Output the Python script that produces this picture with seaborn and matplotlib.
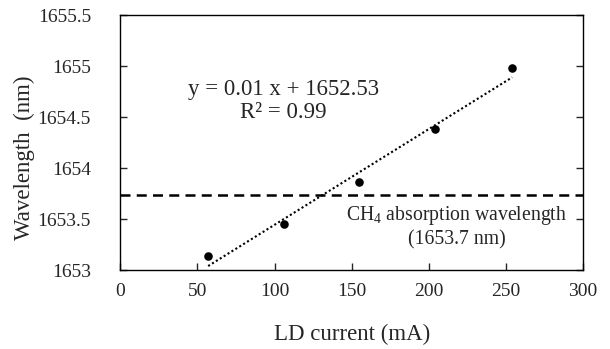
import numpy as np
import pandas as pd
import matplotlib
matplotlib.use("Agg")
import matplotlib.pyplot as plt
import seaborn as sns

current_mA = [57, 106, 155, 204, 254]
wavelength_nm = [1653.14, 1653.45, 1653.87, 1654.38, 1654.98]
ch4_wavelength = 1653.74
x_ticks = [0, 50, 100, 150, 200, 250, 300]
y_ticks = [1653, 1653.5, 1654, 1654.5, 1655, 1655.5]
y_ticklabels = ["1653", "1653.5", "1654", "1654.5", "1655", "1655.5"]
eq_text = "y = 0.01 x + 1652.53\nR\u00b2 = 0.99"
ch4_text = "CH$_4$ absorption wavelength\n(1653.7 nm)"

sns.set_style("ticks")
plt.rcParams["font.family"] = ["Liberation Serif", "DejaVu Serif"]
plt.rcParams["mathtext.fontset"] = "custom"
plt.rcParams["mathtext.rm"] = "Liberation Serif"
plt.rcParams["mathtext.it"] = "Liberation Serif:italic"

df = pd.DataFrame({"current": current_mA, "wavelength": wavelength_nm})

fig = plt.figure(figsize=(6.1, 3.49), dpi=100)
ax = fig.add_axes([0.197, 0.225, 0.759, 0.732])

sns.regplot(data=df, x="current", y="wavelength", ax=ax, ci=None,
            scatter_kws=dict(s=38, color="black", alpha=1, zorder=3, linewidths=0),
            line_kws=dict(color="black", linestyle=(0, (1, 1.2)), linewidth=1.5))

ax.axhline(ch4_wavelength, color="black", linestyle=(0, (4, 2.5)), linewidth=1.8)

ax.set_xlim(0, 300)
ax.set_ylim(1653, 1655.5)
ax.set_xticks(x_ticks)
ax.set_yticks(y_ticks)
ax.set_yticklabels(y_ticklabels)

ax.tick_params(axis="x", direction="in", length=5, width=1, pad=9, labelsize=14, top=False)
ax.tick_params(axis="y", direction="in", length=5, width=1, pad=21, labelsize=14, right=True)
for s in ax.spines.values():
    s.set_visible(True)
    s.set_color("black")
    s.set_linewidth(1)

ax.set_xlabel("LD current (mA)", fontsize=16.5, labelpad=17)
ax.set_ylabel("Wavelength  (nm)", fontsize=16.5)
ax.yaxis.set_label_coords(-0.183, 0.44)

ax.text(106, 1654.66, eq_text, ha="center", va="center", fontsize=16.5, linespacing=1.12)
ax.text(218, 1653.43, ch4_text, ha="center", va="center", fontsize=14.2, linespacing=1.25)

fig.savefig("out.png", dpi=100)
